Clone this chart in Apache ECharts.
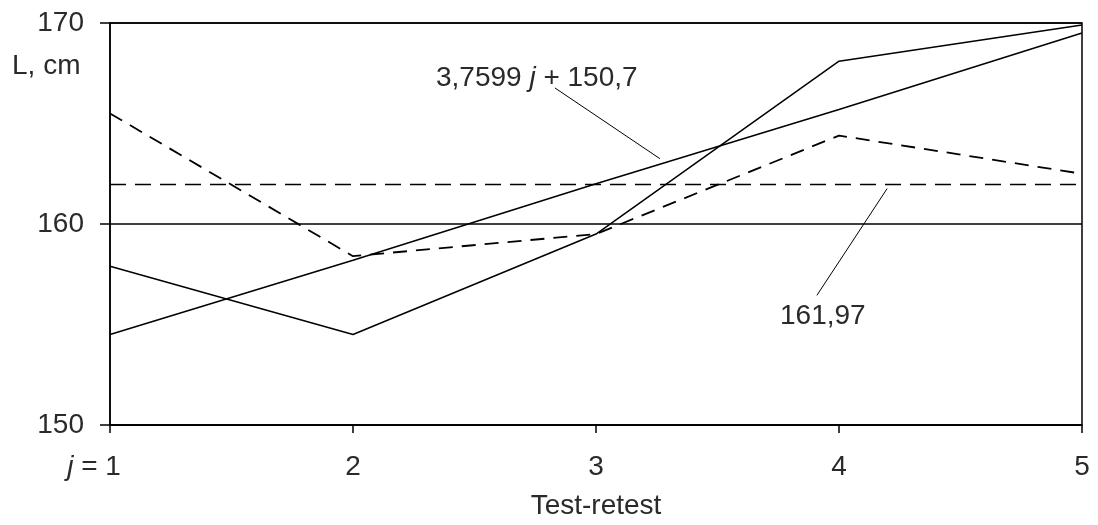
<!DOCTYPE html>
<html>
<head>
<meta charset="utf-8">
<script src="https://cdn.jsdelivr.net/npm/echarts@6/dist/echarts.min.js"></script>
<style>
html,body{margin:0;padding:0;background:#fff;}
#c{width:1098px;height:525px;}
</style>
</head>
<body>
<div id="c"></div>
<script>
var categories = [1, 2, 3, 4, 5];
var tickLabels = ['{j|j} = 1{sp|}', '2', '3', '4', '5'];
var yTicks = [150, 160, 170];
var measuredSolid = [157.9, 154.5, 159.5, 168.1, 169.9];
var measuredDashed = [165.5, 158.4, 159.5, 164.4, 162.5];
var trendValues = [154.5, 158.2, 162.0, 165.7, 169.5];
var meanValues = [161.97, 161.97, 161.97, 161.97, 161.97];
var trendText = '3,7599 {j|j} + 150,7';
var meanText = '161,97';

function pairs(vals){ return categories.map(function(c,i){ return [c, vals[i]]; }); }

var FONT = '"Liberation Sans", Arial, sans-serif';
var TXT = '#2a2a2a';

var chart = echarts.init(document.getElementById('c'), null, {renderer:'canvas'});
chart.setOption({
  animation: false,
  backgroundColor: '#fff',
  grid: {left:110, right:16, top:23, bottom:97, show:true, borderColor:'#000', borderWidth:1.5, backgroundColor:'transparent'},
  xAxis: {
    type: 'value', min: 1, max: 5, interval: 1,
    name: 'Test-retest', nameLocation: 'middle', nameGap: 67,
    nameTextStyle: {fontFamily: FONT, fontSize: 28, color: TXT},
    axisLine: {show:true, onZero:false, lineStyle:{color:'#000', width:1.5}},
    axisTick: {show:true, length:8, lineStyle:{color:'#000', width:1.5}},
    splitLine: {show:false},
    axisLabel: {
      margin: 28, fontFamily: FONT, fontSize: 28, color: TXT,
      formatter: function(v){ return tickLabels[categories.indexOf(v)]; },
      rich: {
        j: {fontFamily: FONT, fontSize: 28, fontStyle:'italic', color: TXT},
        sp: {width: 32}
      }
    }
  },
  yAxis: {
    type: 'value', min: yTicks[0], max: yTicks[yTicks.length-1], interval: 10,
    axisLine: {show:true, onZero:false, lineStyle:{color:'#000', width:1.5}},
    axisTick: {show:true, length:10, inside:false, lineStyle:{color:'#000', width:1.5}},
    splitLine: {show:true, lineStyle:{color:'#000', width:1.5}},
    axisLabel: {margin: 26, fontFamily: FONT, fontSize: 28, color: TXT}
  },
  graphic: [
    {type:'text', left: 12, top: 52, style:{text:'L, cm', font:'28px ' + FONT, fill: TXT}},
    {type:'text', left: 436, top: 64, style:{
      text: trendText, font:'28px ' + FONT, fill: TXT,
      rich: {j: {fontFamily: FONT, fontSize: 28, fontStyle:'italic', fill: TXT}}
    }},
    {type:'text', left: 780, top: 302, style:{text: meanText, font:'28px ' + FONT, fill: TXT}}
  ],
  series: [
    {type:'line', data: pairs(measuredSolid), symbol:'none', lineStyle:{color:'#000', width:1.5}},
    {type:'line', data: pairs(measuredDashed), symbol:'none', lineStyle:{color:'#000', width:1.8, type:[14,9]}},
    {type:'line', data: pairs(meanValues), symbol:'none', lineStyle:{color:'#000', width:1.5, type:[16,9]}},
    {type:'line', data: pairs(trendValues), symbol:'none', lineStyle:{color:'#000', width:1.5},
      markLine: {
        silent: true, symbol: ['none','none'], label:{show:false},
        lineStyle: {color:'#000', width:1, type:'solid'},
        data: [
          [{coord:[2.831, 166.77]}, {coord:[3.263, 163.25]}],
          [{coord:[3.909, 156.45]}, {coord:[4.198, 161.76]}]
        ]
      }
    }
  ]
});
</script>
</body>
</html>
